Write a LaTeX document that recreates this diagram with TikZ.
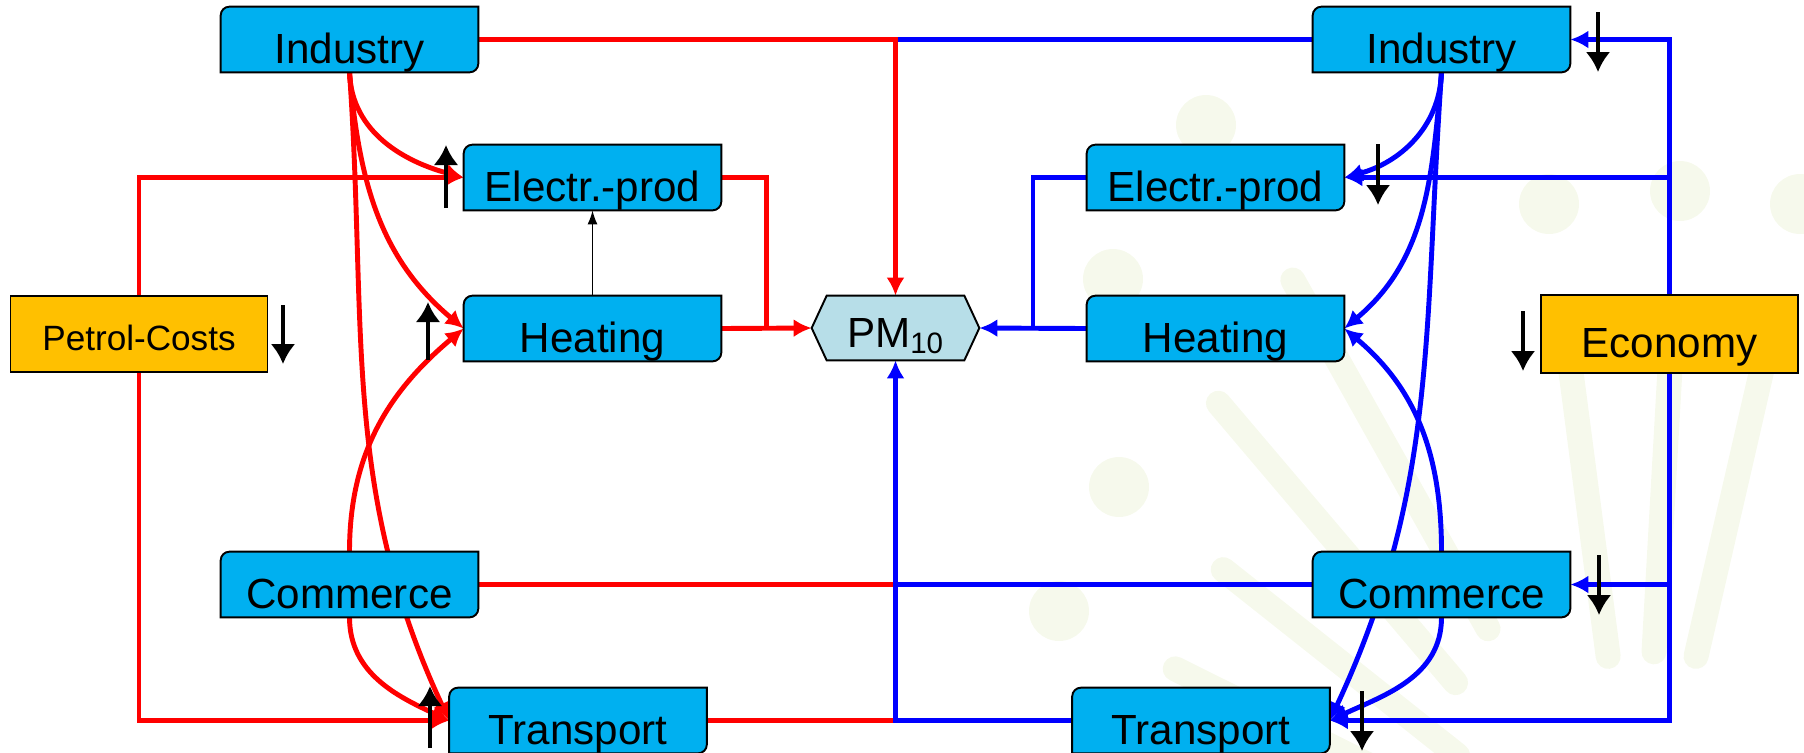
\documentclass[tikz,border=0pt]{standalone}
\usepackage{fontspec}
\setmainfont{Liberation Sans}
\usetikzlibrary{arrows.meta}
\usetikzlibrary{calc}

\definecolor{boxblue}{HTML}{00B0F0}
\definecolor{costorange}{HTML}{FFC000}
\definecolor{pmfill}{HTML}{B7DEE8}
\definecolor{rayfill}{RGB}{246,249,236}

\pgfdeclarelayer{bg}
\pgfdeclarelayer{wires}
\pgfdeclarelayer{boxes}
\pgfsetlayers{bg,wires,boxes,main}

\tikzset{
	sector/.style={minimum width=5.14cm, minimum height=1.3cm, inner sep=0pt, text height=1.12cm, text depth=0.18cm, font=\fontsize{24}{28}\selectfont},
	driver/.style={draw=black, line width=1.1pt, fill=costorange, inner sep=0pt, minimum width=5.14cm},
	pmnode/.style={minimum width=3.34cm, minimum height=1.28cm, inner sep=0pt, text height=1.02cm, text depth=0.26cm, font=\fontsize{24}{28}\selectfont},
	redw/.style={draw=red, line width=2.8pt},
	bluew/.style={draw=blue, line width=2.8pt},
	trend/.style={line width=2.7pt, -{Latex[length=0.4cm,width=0.5cm]}},
	>={Latex[length=0.36cm,width=0.36cm]}
}

\begin{document}
\begin{tikzpicture}[x=0.02cm, y=-0.02cm]
	\useasboundingbox (0,0) rectangle (1804,752);

	\node[sector] (indL) at (349.5,39.5) {Industry};
	\node[sector] (elecL) at (592.5,177.5) {Electr.-prod};
	\node[sector] (heatL) at (592.5,328.5) {Heating};
	\node[sector] (commL) at (349.5,584.5) {Commerce};
	\node[sector] (transL) at (578,720.5) {Transport};
	\node[sector] (indR) at (1441.5,39.5) {Industry};
	\node[sector] (elecR) at (1215.5,177.5) {Electr.-prod};
	\node[sector] (heatR) at (1215.5,328.5) {Heating};
	\node[sector] (commR) at (1441.5,584.5) {Commerce};
	\node[sector] (transR) at (1201,720.5) {Transport};
	\node[pmnode] (pm) at (895.5,328) {PM\textsubscript{10}};
	\node[driver, minimum height=1.52cm, text height=1.08cm, text depth=0.44cm, font=\fontsize{20}{24}\selectfont] (petrol) at (139,334) {Petrol-Costs};
	\node[driver, minimum height=1.56cm, text height=1.24cm, text depth=0.32cm, font=\fontsize{24}{28}\selectfont] (econ) at (1669.5,334) {Economy};

	\begin{pgfonlayer}{bg}
		\coordinate (sun) at (1640,900);
		\foreach \bx/\by in {1206/125, 1549/204, 1680/191, 1800/204, 1113/279, 1119/487, 1059/611} {
			\draw[rayfill, line width=0.5cm, line cap=round] ($(sun)!0.35!(\bx,\by)$) -- ($(sun)!0.8!(\bx,\by)$);
			\fill[rayfill] (\bx,\by) circle[radius=0.6cm];
		}
	\end{pgfonlayer}

	\begin{pgfonlayer}{boxes}
		\foreach \n in {indL,elecL,heatL,commL,transL,indR,elecR,heatR,commR,transR}
			\draw[fill=boxblue, line width=1.1pt] ([yshift=-5pt]\n.north west) arc[start angle=180, end angle=90, radius=5pt] -- (\n.north east) -- ([yshift=5pt]\n.south east) arc[start angle=0, end angle=-90, radius=5pt] -- (\n.south west) -- cycle;
		\draw[fill=pmfill, line width=1.1pt] (pm.west) -- ([xshift=0.3cm]pm.north west) -- ([xshift=-0.3cm]pm.north east) -- (pm.east) -- ([xshift=-0.3cm]pm.south east) -- ([xshift=0.3cm]pm.south west) -- cycle;
	\end{pgfonlayer}

	\begin{pgfonlayer}{wires}
		\draw[bluew] (indR.west) -- (pm.north |- indR.west);
		\draw[redw,->] (indL.east) -| (pm.north);
		\draw[redw,->] (petrol.north) |- (elecL.west);
		\draw[redw,->] (petrol.south) |- (transL.west);
		\draw[redw] (elecL.east) -| ($(heatL.east)!.5!(pm.west)$);
		\draw[redw,->] (heatL.east) -- (pm.west);
		\draw[redw] (commL.east) -- (pm.south |- commL.east);
		\draw[redw] (transL.east) -- (pm.south |- transL.east);
		\draw[bluew] (commR.west) -- (pm.south |- commR.west);
		\draw[bluew,->] (transR.west) -| (pm.south);
		\draw[bluew] (elecR.west) -| ($(heatR.west)!.5!(pm.east)$);
		\draw[bluew,->] (heatR.west) -- (pm.east);
		\draw[bluew,->] (econ.north) |- (indR.east);
		\draw[bluew,->] (econ.north |- elecR.east) -- (elecR.east);
		\draw[bluew,->] (econ.south) |- (transR.east);
		\draw[bluew,->] (econ.south |- commR.east) -- (commR.east);

		\draw[redw,->] (indL.south) to[out=-88, in=165] (elecL.west);
		\draw[redw,->] (indL.south) to[out=-85, in=140] (heatL.west);
		\draw[redw,->] (indL.south) to[out=-86, in=115] (transL.west);
		\draw[redw,->] (commL.north) to[out=90, in=-140] (heatL.west);
		\draw[redw,->] (commL.south) to[out=-90, in=155] (transL.west);

		\draw[bluew,->] (indR.south) to[out=-92, in=15] (elecR.east);
		\draw[bluew,->] (indR.south) to[out=-95, in=40] (heatR.east);
		\draw[bluew,->] (indR.south) to[out=-94, in=65] (transR.east);
		\draw[bluew,->] (commR.north) to[out=90, in=-40] (heatR.east);
		\draw[bluew,->] (commR.south) to[out=-90, in=25] (transR.east);

		\draw[line width=0.85pt, -{Latex[length=0.28cm,width=0.2cm]}] (heatL.north) -- (elecL.south);
	\end{pgfonlayer}

	\draw[trend] (446,208) -- (446,145);
	\draw[trend] (428,360) -- (428,302);
	\draw[trend] (430,748) -- (430,686);
	\draw[trend] (283,305) -- (283,364);
	\draw[trend] (1598,12) -- (1598,72);
	\draw[trend] (1378,144) -- (1378,205);
	\draw[trend] (1523,311) -- (1523,371);
	\draw[trend] (1599,555) -- (1599,615);
	\draw[trend] (1362,691) -- (1362,751);
\end{tikzpicture}
\end{document}
